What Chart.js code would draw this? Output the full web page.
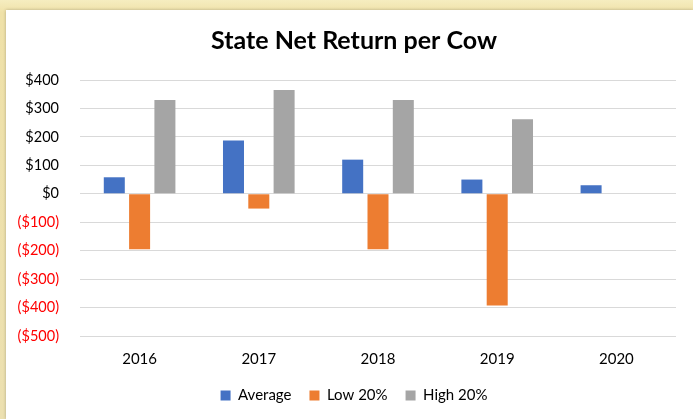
<!DOCTYPE html>
<html><head><meta charset="utf-8">
<script src="https://cdn.jsdelivr.net/npm/chart.js@4"></script>
<style>
html,body{margin:0;padding:0;width:693px;height:419px;overflow:hidden;}
body{background:linear-gradient(180deg,#f6edc0 0%,#efe1a8 3%,#ece0b0 100%);position:relative;}
#wrap{position:absolute;left:6px;top:10px;width:687px;height:409px;background:#fff;box-shadow:0 0 3px rgba(0,0,0,0.25);}
</style></head>
<body><div id="wrap"><canvas id="c" width="687" height="409"></canvas></div>
<script>
const categories = ['2016','2017','2018','2019','2020'];
const average = [58, 187, 120, 50, 30];
const low20 = [-195, -52, -195, -393, null];
const high20 = [330, 365, 330, 262, null];
const yTicks = [400, 300, 200, 100, 0, -100, -200, -300, -400, -500];

const fontFam = "Lato, 'Open Sans', sans-serif";
const shiftBoxes = {
  id:'shiftBoxes',
  afterLayout(chart){
    if (chart.titleBlock) chart.titleBlock.left += 26;
    if (chart.legend) chart.legend.left += 26;
  }
};
new Chart(document.getElementById('c'), {
  type: 'bar',
  data: {
    labels: categories,
    datasets: [
      {label:'Average', data: average, backgroundColor:'#4472C4'},
      {label:'Low 20%', data: low20, backgroundColor:'#ED7D31'},
      {label:'High 20%', data: high20, backgroundColor:'#A5A5A5'}
    ]
  },
  plugins:[shiftBoxes],
  options: {
    responsive:false, animation:false,
    categoryPercentage:0.637, barPercentage:0.83,
    layout:{padding:{left:0,right:17,top:0,bottom:6}},
    plugins:{
      title:{display:true,text:'State Net Return per Cow',color:'#000',
        font:{family:fontFam,size:25,weight:'bold'},padding:{top:16,bottom:24}},
      legend:{position:'bottom',labels:{boxWidth:10,boxHeight:10,color:'#000',
        font:{family:fontFam,size:15},padding:18}},
      tooltip:{enabled:false}
    },
    scales:{
      x:{grid:{display:false,drawTicks:false},border:{display:false},
        afterFit:(s)=>{s.height=34;},
        ticks:{color:'#000',font:{family:fontFam,size:15},padding:14}},
      y:{min:-500,max:400,
        afterBuildTicks:(s)=>{s.ticks=yTicks.map(v=>({value:v}));},
        afterFit:(s)=>{s.width=74;},
        grid:{color:'#d9d9d9',drawTicks:false},border:{display:false},
        ticks:{padding:21,font:{family:fontFam,size:14.5},
          color:(ctx)=>ctx.tick.value<0?'#ff0000':'#000',
          callback:(v)=>v<0?'($'+(-v)+')':'$'+v}}
    }
  }
});
</script></body></html>
